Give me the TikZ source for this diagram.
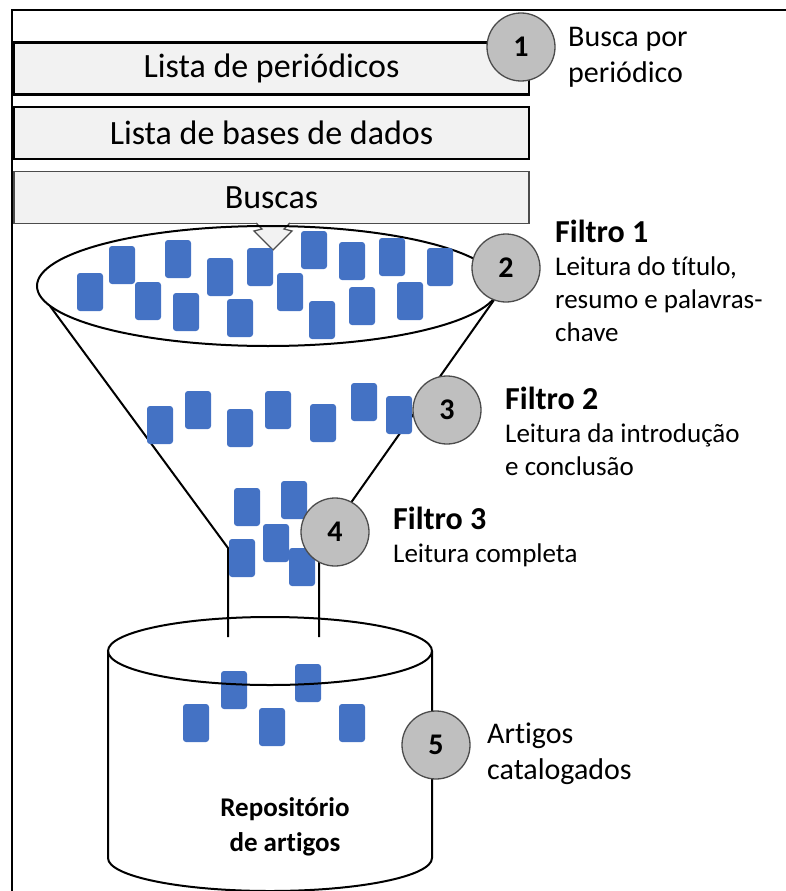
\documentclass[tikz,border=0pt]{standalone}
\usepackage{fontspec}
\setmainfont{Carlito}[Ligatures=NoCommon]
\usetikzlibrary{positioning}
\definecolor{docblue}{HTML}{4472C4}
\definecolor{boxgray}{HTML}{F2F2F2}
\definecolor{markgray}{HTML}{BFBFBF}

\begin{document}
\begin{tikzpicture}[x=1pt,y=-1pt,
    listbox/.style={draw,line width=2.4pt,fill=boxgray,minimum width=515pt,minimum height=52pt,inner sep=0pt,font=\fontsize{34}{40}\selectfont},
    stepmark/.style={circle,draw=black!70,line width=1.3pt,fill=markgray,minimum size=68pt,inner sep=0pt,font=\bfseries\fontsize{30}{36}\selectfont},
    paper/.style={fill=docblue,rounded corners=3pt,minimum width=26pt,minimum height=38pt,inner sep=0pt},
    note/.style={align=left,anchor=north west,inner sep=0pt,font=\fontsize{27}{33}\selectfont},
    label/.style={align=left,anchor=north west,inner sep=0pt,font=\fontsize{30}{36}\selectfont},
    shape line/.style={line width=2pt}]
  \useasboundingbox (0,0) rectangle (786,891);
  \clip (0,0) rectangle (786,891);
  \draw[line width=1.5pt] (786,10) -| (12,891);

  \node[listbox] (per) at (271.5,68.5) {Lista de periódicos};
  \node[listbox] (bases) at (271.5,133) {Lista de bases de dados};
  \node[listbox,draw=black!70,line width=1.3pt] (busca) at (271.5,197.5) {Buscas};
  \fill[boxgray] (256,221.5) -- (262,229) -- (254,231) -- (273,250) -- (292,231) -- (284,229) -- (290,221.5) -- cycle;
  \draw[black!70,line width=1.3pt] (256,223) -- (262,229) -- (254,231) -- (273,250) -- (292,231) -- (284,229) -- (290,223);

  \coordinate (fl) at (50,306);
  \coordinate (fr) at (494,300);
  \coordinate (nl) at (228,548);
  \coordinate (nr) at (319,548);
  \coordinate (el) at (228,637);
  \coordinate (er) at (319,637);
  \draw[shape line] (268,286) ellipse [x radius=231pt,y radius=60pt];
  \draw[shape line] (fl) -- (nl) -- (el);
  \draw[shape line] (fr) -- (nr) -- (er);
  \draw[shape line] (108,651) -- (108,858) arc[start angle=180,end angle=360,x radius=162pt,y radius=33pt] -- (432,651);

  \foreach \px/\py [count=\i] in {90/292,122/265,148/301,178/259,186/312,220/277,240/318,260/267,
      290/292,314/250,322/320,352/261,362/306,392/257,410/301,440/267,
      160/425,198/410,240/428,278/410,323/423,364/402,399/415,
      247/507,294/500,242/558,276/543,302/567,
      196/723,234/690,272/727,308/683,352/723}
    \node[paper] (p\i) at (\px,\py) {};

  \draw[shape line] (270,651) ellipse [x radius=162pt,y radius=34pt];

  \node[stepmark] (s1) at (521,47) {1};
  \node[stepmark] (s2) at (506,268) {2};
  \node[stepmark] (s3) at (447,410) {3};
  \node[stepmark] (s4) at (335,532) {4};
  \node[stepmark] (s5) at (436,745) {5};

  \node[label] (t1) at (568,27) {Busca por\\periódico};
  \node[note] (t2) at (555,220) {{\bfseries\fontsize{32}{33}\selectfont Filtro 1}\\Leitura do título,\\resumo e palavras-\\chave};
  \node[note] (t3) at (505,387) {{\bfseries\fontsize{32}{33}\selectfont Filtro 2}\\Leitura da introdução\\e conclusão};
  \node[note] (t4) at (393,507) {{\bfseries\fontsize{32}{33}\selectfont Filtro 3}\\Leitura completa};
  \node[label] (t5) at (487,723) {Artigos\\catalogados};
  \node[align=center,anchor=north,inner sep=0pt,font=\bfseries\fontsize{27}{35}\selectfont] (repo) at (285,797) {Repositório\\de artigos};
\end{tikzpicture}
\end{document}
